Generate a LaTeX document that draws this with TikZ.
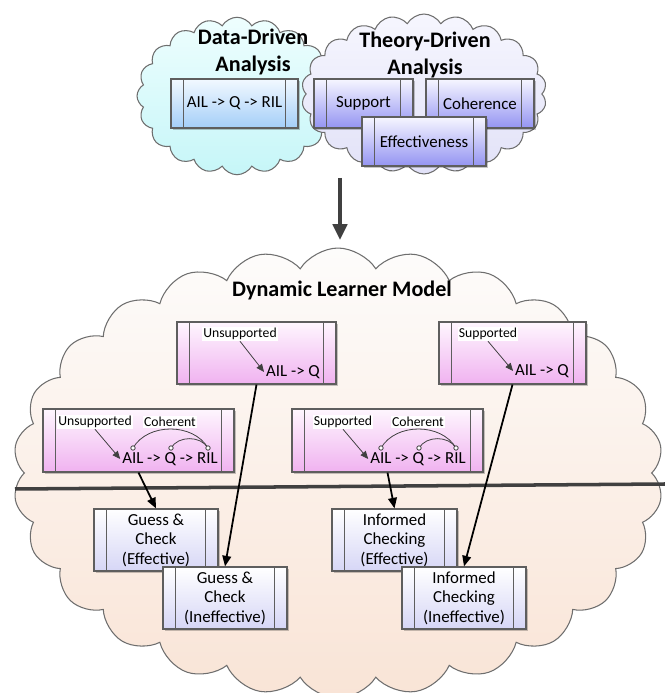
\documentclass[tikz,border=0pt]{standalone}
\usepackage{fontspec}
\setmainfont{Carlito}
\usetikzlibrary{shapes.symbols,arrows.meta}

\definecolor{boxline}{HTML}{5E5E5E}
\definecolor{cloudline}{HTML}{6E6E6E}
\definecolor{flowgray}{HTML}{404040}
\definecolor{ddtop}{HTML}{EEFEFE}
\definecolor{ddbot}{HTML}{C6F6F8}
\definecolor{thtop}{HTML}{F6F6FE}
\definecolor{thbot}{HTML}{E2E2F8}
\definecolor{dlmtop}{HTML}{FDFCFB}
\definecolor{dlmbot}{HTML}{F9E4D6}
\definecolor{bluetop}{HTML}{F2F9FF}
\definecolor{bluebot}{HTML}{A4CEF8}
\definecolor{violtop}{HTML}{F6F6FF}
\definecolor{violbot}{HTML}{9494F2}
\definecolor{pinktop}{HTML}{FEF6FE}
\definecolor{pinkbot}{HTML}{F0B2F0}
\definecolor{paletop}{HTML}{FFFFFF}
\definecolor{palebot}{HTML}{D6D6F6}

\tikzset{
  cloudshape/.style={cloud, cloud ignores aspect, draw=cloudline, line width=0.6pt, inner sep=0pt},
  procbox/.style={draw=boxline, line width=0.7pt, rectangle, inner sep=1pt, align=center,
    font=\fontsize{9.6}{11.1}\selectfont,
    preaction={fill=black, opacity=0.22, transform canvas={xshift=1pt,yshift=-1pt}},
    path picture={\draw[boxline, line width=0.7pt]
      ([xshift=0.25cm]path picture bounding box.north west) -- ([xshift=0.25cm]path picture bounding box.south west)
      ([xshift=-0.25cm]path picture bounding box.north east) -- ([xshift=-0.25cm]path picture bounding box.south east);}},
  bluebox/.style={procbox, top color=bluetop, bottom color=bluebot},
  violbox/.style={procbox, top color=violtop, bottom color=violbot},
  pinkbox/.style={procbox, top color=pinktop, bottom color=pinkbot},
  palebox/.style={procbox, top color=paletop, bottom color=palebot},
  titletext/.style={font=\fontsize{12.6}{15.3}\selectfont\bfseries, align=center},
  linktext/.style={font=\fontsize{9.6}{11.1}\selectfont, inner sep=1pt},
  tagtext/.style={font=\fontsize{7.8}{9}\selectfont, fill=white, inner sep=0.6pt},
  tagline/.style={flowgray, line width=0.45pt},
  tagarrow/.style={tagline, -{Triangle[length=4.5pt,width=3.8pt]}},
  steparrow/.style={black, line width=1pt, -{Triangle[length=6pt,width=5pt]}},
}

\begin{document}
\begin{tikzpicture}[x=0.02cm,y=0.02cm]
\useasboundingbox (0,0) rectangle (665,693);

% clouds
\node[cloudshape, cloud puffs=26, cloud puff arc=115, minimum width=13.0cm, minimum height=9.0cm,
      top color=dlmtop, bottom color=dlmbot] (dlm) at (338,220) {};
\node[cloudshape, cloud puffs=20, cloud puff arc=120, minimum width=4.0cm, minimum height=3.15cm,
      top color=ddtop, bottom color=ddbot] (ddcloud) at (237,597) {};
\node[cloudshape, cloud puffs=22, cloud puff arc=120, minimum width=4.9cm, minimum height=3.2cm,
      top color=thtop, bottom color=thbot] (thcloud) at (424,599) {};

\node[titletext] (ddtitle) at (253,641) {Data-Driven\\Analysis};
\node[titletext] (thtitle) at (425,638) {Theory-Driven\\Analysis};
\node[titletext] (dlmtitle) at (342,403) {Dynamic Learner Model};

% analysis boxes
\node[bluebox, minimum width=2.54cm, minimum height=0.98cm] (ddbox) at (234.5,589.5) {AIL -> Q -> RIL};
\node[violbox, minimum width=1.98cm, minimum height=0.98cm] (supbox) at (363.5,589.5) {Support};
\node[violbox, minimum width=2.16cm, minimum height=0.98cm] (cohbox) at (480,589.5) {Coherence};
\node[violbox, minimum width=2.48cm, minimum height=0.98cm] (effbox) at (424,551.5) {Effectiveness};

\coordinate (flowtop) at (340,515);
\coordinate (flowbot) at (340,453);
\draw[flowgray, line width=2.3pt, -{Triangle[length=9pt,width=8pt]}] (flowtop) -- (flowbot);

% learner states
\node[pinkbox, minimum width=3.18cm, minimum height=1.24cm] (uaq) at (256.5,340) {};
\node[pinkbox, minimum width=2.94cm, minimum height=1.24cm] (saq) at (512.5,340) {};
\node[pinkbox, minimum width=3.82cm, minimum height=1.26cm] (ucoh) at (138.5,252.5) {};
\node[pinkbox, minimum width=3.82cm, minimum height=1.26cm] (scoh) at (387.5,252.5) {};

\node[tagtext] (uaqlab) at (240,359) {Unsupported};
\node[linktext] (uaqtxt) at (293,321) {AIL -> Q};
\draw[tagarrow] (uaqlab.south) -- (uaqtxt.west);

\node[tagtext] (saqlab) at (488,359) {Supported};
\node[linktext] (saqtxt) at (542,322) {AIL -> Q};
\draw[tagarrow] (saqlab.south) -- (saqtxt.west);

\node[tagtext] (ucohlab) at (95,271) {Unsupported};
\node[tagtext] (ucohcoh) at (170,271) {Coherent};
\node[linktext] (ucohtxt) at (170,234) {AIL -> Q -> RIL};
\draw[tagarrow] (ucohlab.south) -- (ucohtxt.west);
\coordinate (uc1) at (133,245);
\coordinate (uc2) at (171,245);
\coordinate (uc3) at (208,245);
\draw[tagline] (uc1) to[out=60,in=120] (uc3);
\draw[tagline] (uc2) to[out=60,in=120] (uc3);
\foreach \c in {uc1,uc2,uc3}
  \draw[tagline, fill=white] (\c) circle (2.2);

\node[tagtext] (scohlab) at (343,271) {Supported};
\node[tagtext] (scohcoh) at (418,271) {Coherent};
\node[linktext] (scohtxt) at (418,234) {AIL -> Q -> RIL};
\draw[tagarrow] (scohlab.south) -- (scohtxt.west);
\coordinate (sc1) at (381,245);
\coordinate (sc2) at (419,245);
\coordinate (sc3) at (456,245);
\draw[tagline] (sc1) to[out=60,in=120] (sc3);
\draw[tagline] (sc2) to[out=60,in=120] (sc3);
\foreach \c in {sc1,sc2,sc3}
  \draw[tagline, fill=white] (\c) circle (2.2);

% separator
\coordinate (sepL) at (15,204);
\coordinate (sepR) at (665,209);
\draw[flowgray, line width=2pt] (sepL) -- (sepR);

% strategies
\node[palebox, minimum width=2.48cm, minimum height=1.24cm] (gce) at (156,153) {Guess \&\\Check\\(Effective)};
\node[palebox, minimum width=2.48cm, minimum height=1.24cm] (gci) at (225,95) {Guess \&\\Check\\(Ineffective)};
\node[palebox, minimum width=2.5cm, minimum height=1.24cm] (ice) at (394.5,153) {Informed\\Checking\\(Effective)};
\node[palebox, minimum width=2.48cm, minimum height=1.24cm] (ici) at (464,95) {Informed\\Checking\\(Ineffective)};

\draw[steparrow] (ucoh.south) -- (gce.north);
\draw[steparrow] (uaq.south) -- (gci.north);
\draw[steparrow] (scoh.south) -- (ice.north);
\draw[steparrow] (saq.south) -- (ici.north);
\end{tikzpicture}
\end{document}
